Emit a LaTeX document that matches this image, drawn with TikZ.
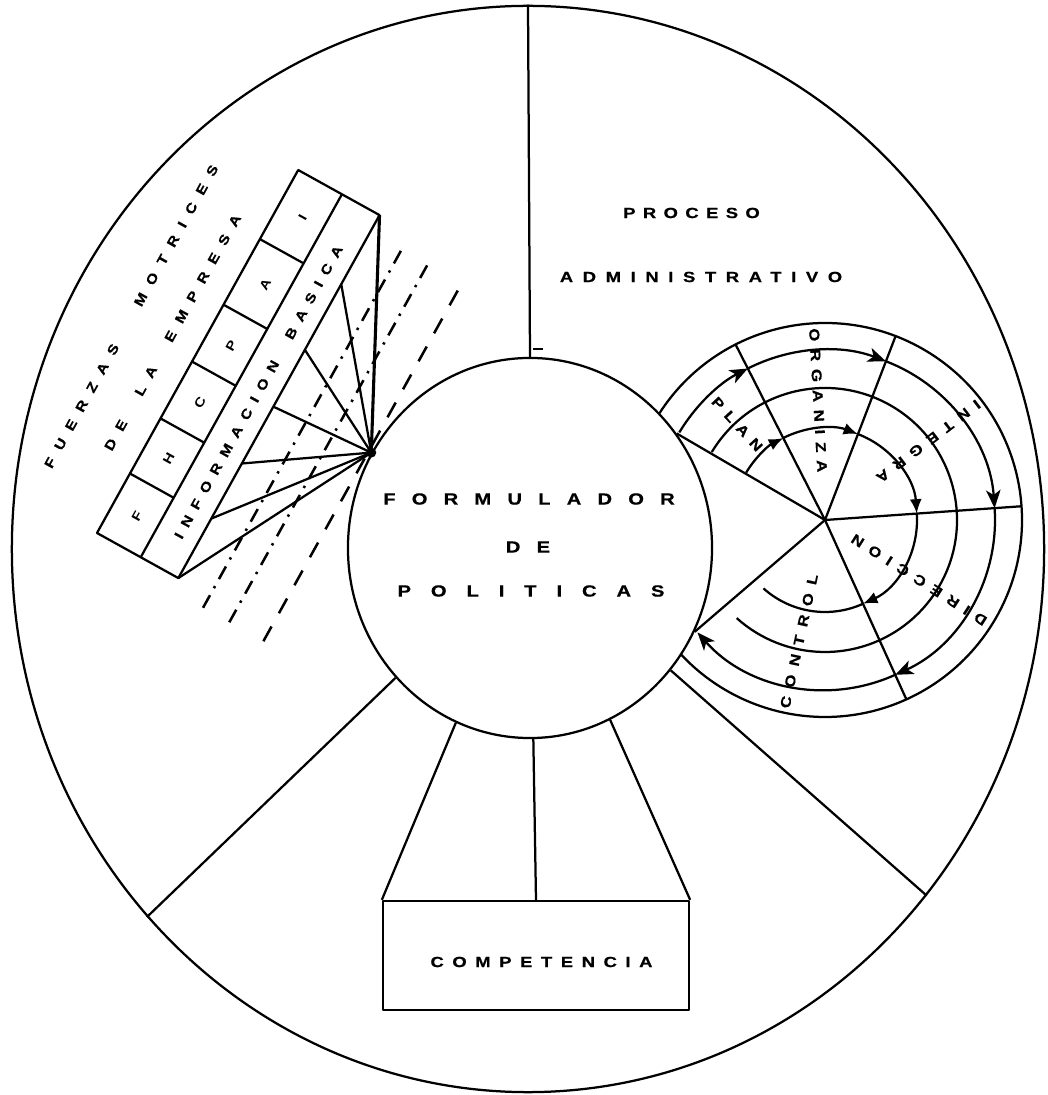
\documentclass[tikz,border=0pt]{standalone}
\usepackage{fontspec}
\setmainfont{Liberation Sans}
\usetikzlibrary{arrows.meta,shapes.geometric,positioning}

\begin{document}
\begin{tikzpicture}[x=0.025cm, y=0.025cm, line width=1.6pt, line join=round,
    rimline/.style={draw, ellipse, inner sep=0pt},
    lbl/.style={font={\bfseries\fontsize{11.5}{13}\selectfont\addfontfeatures{LetterSpace=#1,FakeStretch=1.25,FakeBold=0.6}}, inner sep=1pt},
    mlbl/.style={font={\bfseries\fontsize{10.5}{12}\selectfont\addfontfeatures{LetterSpace=#1,FakeStretch=1.25,FakeBold=0.6}}, inner sep=1pt},
    slbl/.style={font={\bfseries\fontsize{9.5}{11}\selectfont\addfontfeatures{LetterSpace=#1,FakeStretch=1.2,FakeBold=0.6}}, inner sep=1pt},
    wlbl/.style={font={\bfseries\fontsize{10}{12}\selectfont\addfontfeatures{LetterSpace=#1,FakeStretch=1.2,FakeBold=0.6}}, inner sep=0pt},
    cell/.style={font={\bfseries\fontsize{9}{10}\selectfont\addfontfeatures{FakeStretch=1.2}}, inner sep=0pt},
    arr/.style={-{Stealth[length=4.5mm,width=3.6mm,inset=1.2mm]}},
    barr/.style={-{Latex[length=3.6mm,width=3mm]}},
    dashdotline/.style={line width=1.8pt, dash pattern=on 0.36cm off 0.2cm on 0.06cm off 0.2cm},
    dashline/.style={line width=1.8pt, dash pattern=on 0.42cm off 0.38cm}
]
\useasboundingbox (-528,-546) rectangle (519,549);

% outer ring and policy maker
\node[rimline, minimum width=25.8cm, minimum height=27.15cm] (rim) at (0,0) {};
\node[rimline, minimum width=9.1cm, minimum height=9.5cm] (form) at (2,1) {};
\node[lbl=100] (fm1) at (1,50) {FORMULADOR};
\node[lbl=100] (fm2) at (0,2) {DE};
\node[lbl=123] (fm3) at (3,-42) {POLITICAS};

% spokes
\draw (rim.north) -- (form.north);
\draw[line width=0.8pt] (5,200) -- (15,200);
\draw (form.224) -- (rim.224);
\draw (form.319) -- (rim.319);

% competencia
\node[draw, minimum width=7.65cm, minimum height=2.725cm] (comp) at (8,-406.5) {};
\node[mlbl=58] (comptxt) at (13.5,-413) {COMPETENCIA};
\draw (form.247) -- (comp.north west);
\draw (form.271) -- (comp.north);
\draw (form.295) -- (comp.north east);

% proceso administrativo
\node[mlbl=50] (proc) at (163.5,336) {PROCESO};
\node[mlbl=65] (adm) at (173,272) {ADMINISTRATIVO};

\coordinate (wc) at (297,29);
\draw (wc) -- (form.38);
\draw (wc) -- (form.-27);
\foreach \a in {117,69,4,-65.6} \draw (wc) -- ++(\a:197);
\draw (wc) ++(147.4:197) arc[start angle=147.4, end angle=-137, radius=197];
\draw (wc) ++(149:132) arc[start angle=149, end angle=-132, radius=132];
\foreach \s/\e in {149/117,117/69,69/4,4/-65.6}{
  \draw[barr] (wc) ++(\s:92) arc[start angle=\s, end angle=\e, radius=92];
  \draw[arr] (wc) ++(\s:170) arc[start angle=\s, end angle=\e, radius=170];
}
\draw (wc) ++(-65.6:92) arc[start angle=-65.6, end angle=-132, radius=92];
\draw[arr] (wc) ++(-65.6:170) arc[start angle=-65.6, end angle=-138.6, radius=170];

\node[wlbl=52, rotate=-47.5] (plan) at ([shift={(132.5:130)}]wc) {PLAN};
\node[wlbl=55, rotate=-86.7] (orga) at ([shift={(93.3:120)}]wc) {ORGANIZA};
\node[wlbl=60, rotate=-142.7] (integ) at ([shift={(37.3:130)}]wc) {INTEGRA};
\node[wlbl=56, rotate=147.5] (direc) at ([shift={(-32.5:111.5)}]wc) {DIRECCION};
\node[wlbl=63, rotate=77.9] (contr) at ([shift={(257.9:124)}]wc) {CONTROL};

% fuerzas motrices
\begin{scope}[shift={(-431,16)}, rotate=61]
  \draw (0,0) rectangle (415,-93);
  \draw (0,-50) -- (415,-50);
  \foreach \u in {68,131,196,261,336} \draw (\u,0) -- (\u,-50);
  \foreach \l/\u in {F/34,H/99.5,C/163.5,P/228.5,A/298.5,I/375.5}
    \node[cell, rotate=61] (c\l) at (\u,-27) {\l};
  \foreach \u [count=\k] in {0,68,131,196,261,336,415}
    \coordinate (e\k) at (\u,-93);
  \node[slbl=65, rotate=61] (info) at (201.5,-73) {INFORMACION\hspace{0.33cm} BASICA};
  \node[slbl=80, rotate=61] (fuer) at (206,75) {FUERZAS\hspace{0.75cm} MOTRICES};
  \node[slbl=80, rotate=61] (dela) at (212,31) {DE\hspace{0.36cm} LA\hspace{0.36cm} EMPRESA};
  \draw[dashdotline] (-14,-129) -- (402,-129);
  \draw[dashdotline] (-14,-159) -- (402,-159);
  \draw[dashline] (-14,-198) -- (402,-198);
\end{scope}

\coordinate (fan) at (form.149);
\foreach \k in {1,...,6} \draw (fan) -- (e\k);
\draw[line width=2.2pt] (fan) -- (e7);
\fill (fan) circle (5);
\end{tikzpicture}
\end{document}
